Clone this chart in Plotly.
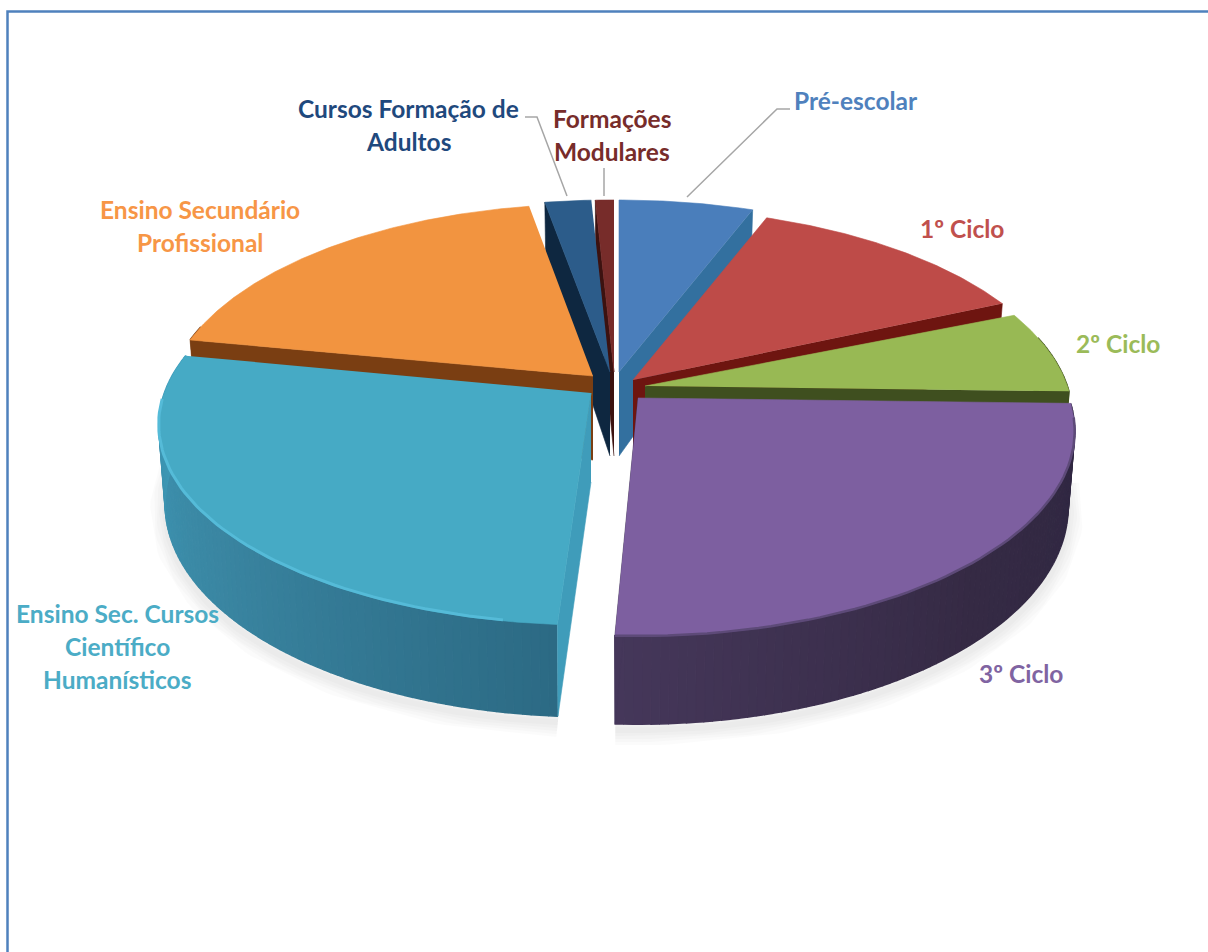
"""
Exploded 3D style pie chart of students by teaching level.
Plotly has no tilted pie, so the slices are built as polygons from the shares.
"""

import numpy as np
import plotly.graph_objects as go

# -- Data ---------------------------------------------------------------------

LABELS = [
    "Pré-escolar", "1º Ciclo", "2º Ciclo", "3º Ciclo",
    "Ensino Sec. Cursos<br>Científico<br>Humanísticos",
    "Ensino Secundário<br>Profissional",
    "Cursos Formação de<br>Adultos", "Formações<br>Modulares",
]
SHARES = [5.8, 12.5, 7.1, 25.6, 26.9, 19.2, 2.0, 0.8]

# -- Theme --------------------------------------------------------------------

TOP_COLORS = ["#4A7EBB", "#BE4B48", "#98B954", "#7D5FA0", "#46AAC5", "#F29440", "#2C5C8A", "#772C2A"]
CUT_COLORS = ["#33709F", "#6E1510", "#3F4F1F", "#45375A", "#3F9CBA", "#7A3E12", "#0E2740", "#3C1210"]
TEXT_COLORS = ["#4F81BD", "#C0504D", "#9BBB59", "#8064A2", "#4BACC6", "#F79646", "#1F497D", "#772C2A"]
RIM_START = ["#2F6B9E", "#6E1510", "#3F4F1F", "#2F2742", "#2C6A84", "#7A3E12", "#0E2740", "#3C1210"]
RIM_MID = ["#2F6B9E", "#6E1510", "#3F4F1F", "#352A44", "#3A86A2", "#7A3E12", "#0E2740", "#3C1210"]
RIM_END = ["#2F6B9E", "#6E1510", "#3F4F1F", "#45375A", "#3F9DBB", "#7A3E12", "#0E2740", "#3C1210"]
BORDER = "#4F81BD"
LEADER = "#A6A6A6"
FONT = "Lato"

# -- Geometry (pixels, the axes run 1:1 with the page) ------------------------

APEX = [(619, 372), (633, 380), (645, 386), (638, 398), (591, 393), (593, 376), (610, 372), (614, 372)]
SCALE_X = [1.0, 1.0, 0.98, 1.0, 0.99, 0.98, 1.0, 1.0]
SCALE_Y = [1.0, 1.0, 1.0, 1.0, 0.975, 1.0, 1.0, 1.0]
DEPTH = [72, 72, 72, 74, 77, 72, 72, 72]
TRIM_START = [0, 0, 2.0, 0, 0, 0, 0, 0]
TRIM_END = [0, 0, 0, 1.2, -0.7, 0, 0, 0]
CUT_AT_START = [False, False, False, False, True, True, True, True]
DRAW_ORDER = [7, 6, 0, 5, 1, 2, 4, 3]
RX, RY, TILT = 431, 199.7, 0.161
BOTTOM_SHRINK = 0.985

LABEL_POS = [(856, 100.5), (962, 228.5), (1118, 343.5), (1021, 673.5), (117, 613.5), (200, 209.5), (408, 108.5), (612, 118.5)]
LINE_STEP = 33

LEADERS_X = [[790, 777, 687], [525, 537, 567], [604, 604]]
LEADERS_Y = [[109, 109, 197], [117, 117, 196], [168, 196]]

bounds = np.concatenate([[0], np.cumsum(SHARES)]) / np.sum(SHARES) * 360


def rim(i, theta, lower=False):
    """Project disc angles (0 = back, clockwise) to the page for slice i."""
    t = np.radians(theta)
    u, v = np.sin(t), -np.cos(t)
    w = 1 - TILT * v
    x = SCALE_X[i] * RX * u / w
    y = SCALE_Y[i] * RY * v / w
    ax, ay = APEX[i]
    if lower:
        return ax + x * BOTTOM_SHRINK, ay + y + DEPTH[i] / w
    return ax + x, ay + y


def poly(xs, ys, color, line_width=0.6):
    return go.Scatter(
        x=xs, y=ys, mode="lines", fill="toself", fillcolor=color,
        line=dict(color=color, width=line_width),
        hoverinfo="skip", showlegend=False,
    )


def mix(c1, c2, f):
    a = [int(c1[k:k + 2], 16) for k in (1, 3, 5)]
    b = [int(c2[k:k + 2], 16) for k in (1, 3, 5)]
    return "#%02x%02x%02x" % tuple(int(round(p + (q - p) * f)) for p, q in zip(a, b))


def slice_span(i):
    return bounds[i] + TRIM_START[i], bounds[i + 1] - TRIM_END[i]


fig = go.Figure()

# soft shadow under the two front slices
for w in (30, 24, 18, 12, 6):
    for i in (3, 4):
        t0, t1 = slice_span(i)
        th = np.linspace(t0, t1, 90)
        th = th[np.cos(np.radians(th)) < 0.1]
        bx, by = rim(i, th, lower=True)
        fig.add_trace(go.Scatter(
            x=bx, y=by + 6, mode="lines", line=dict(color="rgba(0,0,0,0.014)", width=w),
            hoverinfo="skip", showlegend=False,
        ))

for i in DRAW_ORDER:
    t0, t1 = slice_span(i)
    ax, ay = APEX[i]

    # outer wall, in small steps so that it can carry a gradient
    steps = np.linspace(t0, t1, max(3, int(t1 - t0)))
    for a, b in zip(steps[:-1], steps[1:]):
        if np.cos(np.radians((a + b) / 2)) > 0.25:
            continue
        f = (((a + b) / 2) - t0) / (t1 - t0)
        c = mix(RIM_START[i], RIM_MID[i], f * 2) if f < 0.5 else mix(RIM_MID[i], RIM_END[i], f * 2 - 1)
        seg = np.linspace(a, b, 4)
        tx, ty = rim(i, seg)
        bx, by = rim(i, seg, lower=True)
        fig.add_trace(poly(np.r_[tx, bx[::-1]], np.r_[ty, by[::-1]], c, 1.5))

    # cut face between the apex and the rim
    edge = t0 if CUT_AT_START[i] else t1
    ex, ey = rim(i, edge)
    lx, ly = rim(i, edge, lower=True)
    depth_here = DEPTH[i] + 12
    fig.add_trace(poly([ax, ex, lx, ax], [ay, ey, ly, ay + depth_here], CUT_COLORS[i]))

    # top face
    th = np.linspace(t0, t1, max(6, int((t1 - t0) * 2)))
    tx, ty = rim(i, th)
    fig.add_trace(poly(np.r_[ax, tx], np.r_[ay, ty], TOP_COLORS[i]))

# lit bevel along the front edge
th = np.linspace(190, 268, 60)
bx, by = rim(4, th)
fig.add_trace(go.Scatter(x=bx, y=by - 1, mode="lines", line=dict(color="#55BBD8", width=3),
                         hoverinfo="skip", showlegend=False))
th = np.linspace(slice_span(3)[0] + 4, slice_span(3)[1], 60)
bx, by = rim(3, th)
fig.add_trace(go.Scatter(x=bx, y=by, mode="lines", line=dict(color="#5D4A78", width=2.5),
                         hoverinfo="skip", showlegend=False))

# leader lines
for lx, ly in zip(LEADERS_X, LEADERS_Y):
    fig.add_trace(go.Scatter(x=lx, y=ly, mode="lines", line=dict(color=LEADER, width=1.5),
                             hoverinfo="skip", showlegend=False))

# labels, one annotation per line to keep the original line spacing
for label, (px, py), color in zip(LABELS, LABEL_POS, TEXT_COLORS):
    for n, part in enumerate(label.split("<br>")):
        fig.add_annotation(
            x=px, y=py + n * LINE_STEP, text=part, showarrow=False,
            font=dict(family=FONT, size=24.5, color=color, weight="bold"),
            xanchor="center", yanchor="middle",
        )

fig.add_shape(type="rect", x0=7.5, y0=11.5, x1=1230, y1=980, line=dict(color=BORDER, width=2.5))

fig.update_layout(
    width=1208, height=952,
    margin=dict(l=0, r=0, t=0, b=0),
    paper_bgcolor="white", plot_bgcolor="white",
    showlegend=False,
    xaxis=dict(range=[0, 1208], visible=False, fixedrange=True),
    yaxis=dict(range=[952, 0], visible=False, fixedrange=True),
)

fig.write_html(
    "out.html",
    config={"displayModeBar": False},
    post_script="document.body.style.margin='0';document.body.style.overflow='hidden';",
)
